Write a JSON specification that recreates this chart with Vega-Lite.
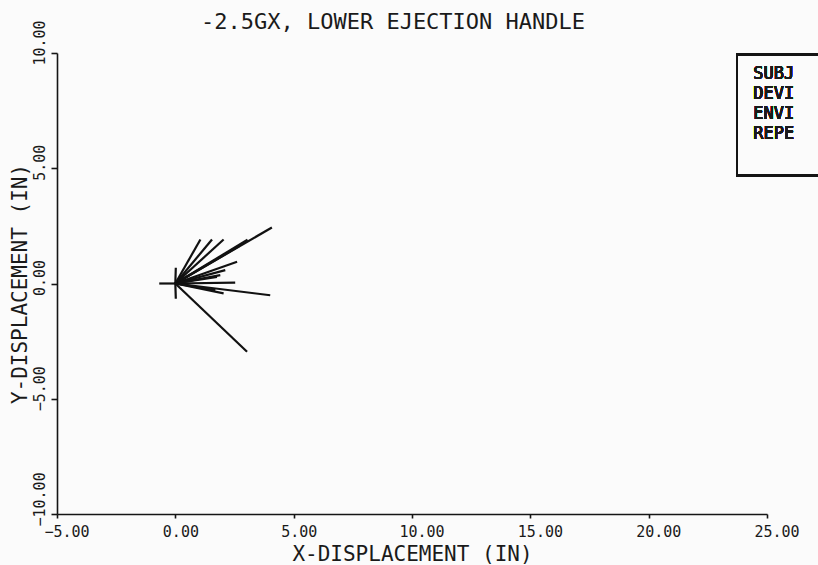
{
  "$schema": "https://vega.github.io/schema/vega-lite/v6.json",
  "autosize": {"type": "none"},
  "width": 710,
  "height": 461,
  "padding": {"left": 57, "top": 53, "right": 51, "bottom": 51},
  "background": "#fbfbfb",
  "config": {
    "view": {"stroke": null},
    "font": "DejaVu Sans Mono",
    "axis": {
      "grid": false,
      "domainColor": "#151515",
      "domainWidth": 1.6,
      "tickColor": "#151515",
      "tickWidth": 1.6,
      "labelFont": "DejaVu Sans Mono",
      "labelFontSize": 15,
      "labelColor": "#1a1a1a",
      "titleFont": "DejaVu Sans Mono",
      "titleFontSize": 21,
      "titleFontWeight": "normal",
      "titleColor": "#1a1a1a"
    }
  },
  "title": {
    "text": "-2.5GX, LOWER EJECTION HANDLE",
    "font": "DejaVu Sans Mono",
    "fontSize": 22,
    "fontWeight": "normal",
    "color": "#1a1a1a",
    "anchor": "middle",
    "baseline": "alphabetic",
    "offset": 0,
    "dy": 31,
    "dx": -19
  },
  "data": {
    "values": [
      {"x_start": 0, "y_start": 0, "x_end": -0.68, "y_end": 0.0},
      {"x_start": 0, "y_start": 0, "x_end": 0.02, "y_end": 0.68},
      {"x_start": 0, "y_start": 0, "x_end": 0.02, "y_end": -0.66},
      {"x_start": 0, "y_start": 0, "x_end": 4.08, "y_end": 2.43},
      {"x_start": 0, "y_start": 0, "x_end": 3.05, "y_end": 1.9},
      {"x_start": 0, "y_start": 0, "x_end": 2.7, "y_end": 1.62},
      {"x_start": 0, "y_start": 0, "x_end": 1.06, "y_end": 1.91},
      {"x_start": 0, "y_start": 0, "x_end": 1.55, "y_end": 1.91},
      {"x_start": 0, "y_start": 0, "x_end": 2.04, "y_end": 1.91},
      {"x_start": 0, "y_start": 0, "x_end": 2.61, "y_end": 0.94},
      {"x_start": 0, "y_start": 0, "x_end": 2.11, "y_end": 0.58},
      {"x_start": 0, "y_start": 0, "x_end": 1.9, "y_end": 0.36},
      {"x_start": 0, "y_start": 0, "x_end": 1.76, "y_end": 0.29},
      {"x_start": 0, "y_start": 0, "x_end": 2.53, "y_end": 0.04},
      {"x_start": 0, "y_start": 0, "x_end": 4.01, "y_end": -0.51},
      {"x_start": 0, "y_start": 0, "x_end": 2.04, "y_end": -0.43},
      {"x_start": 0, "y_start": 0, "x_end": 1.69, "y_end": -0.29},
      {"x_start": 0, "y_start": 0, "x_end": 3.03, "y_end": -2.96}
    ]
  },
  "layer": [
    {
      "mark": {"type": "rule", "color": "#111111", "strokeWidth": 2.2},
      "encoding": {
        "x": {
          "field": "x_start",
          "type": "quantitative",
          "scale": {"domain": [-5, 25], "nice": false, "zero": false},
          "axis": {
            "values": [-5, 0, 5, 10, 15, 20, 25],
            "format": ".2f",
            "title": "X-DISPLACEMENT (IN)",
            "tickSize": 4,
            "labelAlign": "left",
            "labelBaseline": "top",
            "labelPadding": 6,
            "labelOffset": -13,
            "titleBaseline": "alphabetic",
            "titleY": 46
          }
        },
        "y": {
          "field": "y_start",
          "type": "quantitative",
          "scale": {"domain": [-10, 10], "nice": false, "zero": false},
          "axis": {
            "values": [-10, -5, 0, 5, 10],
            "format": ".2f",
            "title": "Y-DISPLACEMENT (IN)",
            "tickSize": 6,
            "labelAngle": 270,
            "labelAlign": "left",
            "labelBaseline": "alphabetic",
            "labelPadding": 7,
            "labelOffset": 12,
            "titleAngle": 270,
            "titleAlign": "center",
            "titleBaseline": "alphabetic",
            "titleX": -31,
            "titleY": 230.5
          }
        },
        "x2": {"field": "x_end"},
        "y2": {"field": "y_end"}
      }
    },
    {
      "mark": {"type": "rect", "fill": null, "stroke": "#151515", "strokeWidth": 1.6, "clip": false},
      "encoding": {
        "x": {"datum": 23.73, "type": "quantitative"},
        "x2": {"datum": 30},
        "y": {"datum": 9.94, "type": "quantitative"},
        "y2": {"datum": 4.69}
      }
    },
    {
      "mark": {
        "type": "text",
        "font": "DejaVu Sans Mono",
        "fontSize": 17,
        "align": "left",
        "baseline": "top",
        "lineHeight": 20,
        "color": "#1a1a1a",
        "clip": false
      },
      "encoding": {
        "x": {"datum": 24.42, "type": "quantitative"},
        "y": {"datum": 9.43, "type": "quantitative"},
        "text": {"value": ["SUBJ", "DEVI", "ENVI", "REPE"]}
      }
    }
  ]
}
